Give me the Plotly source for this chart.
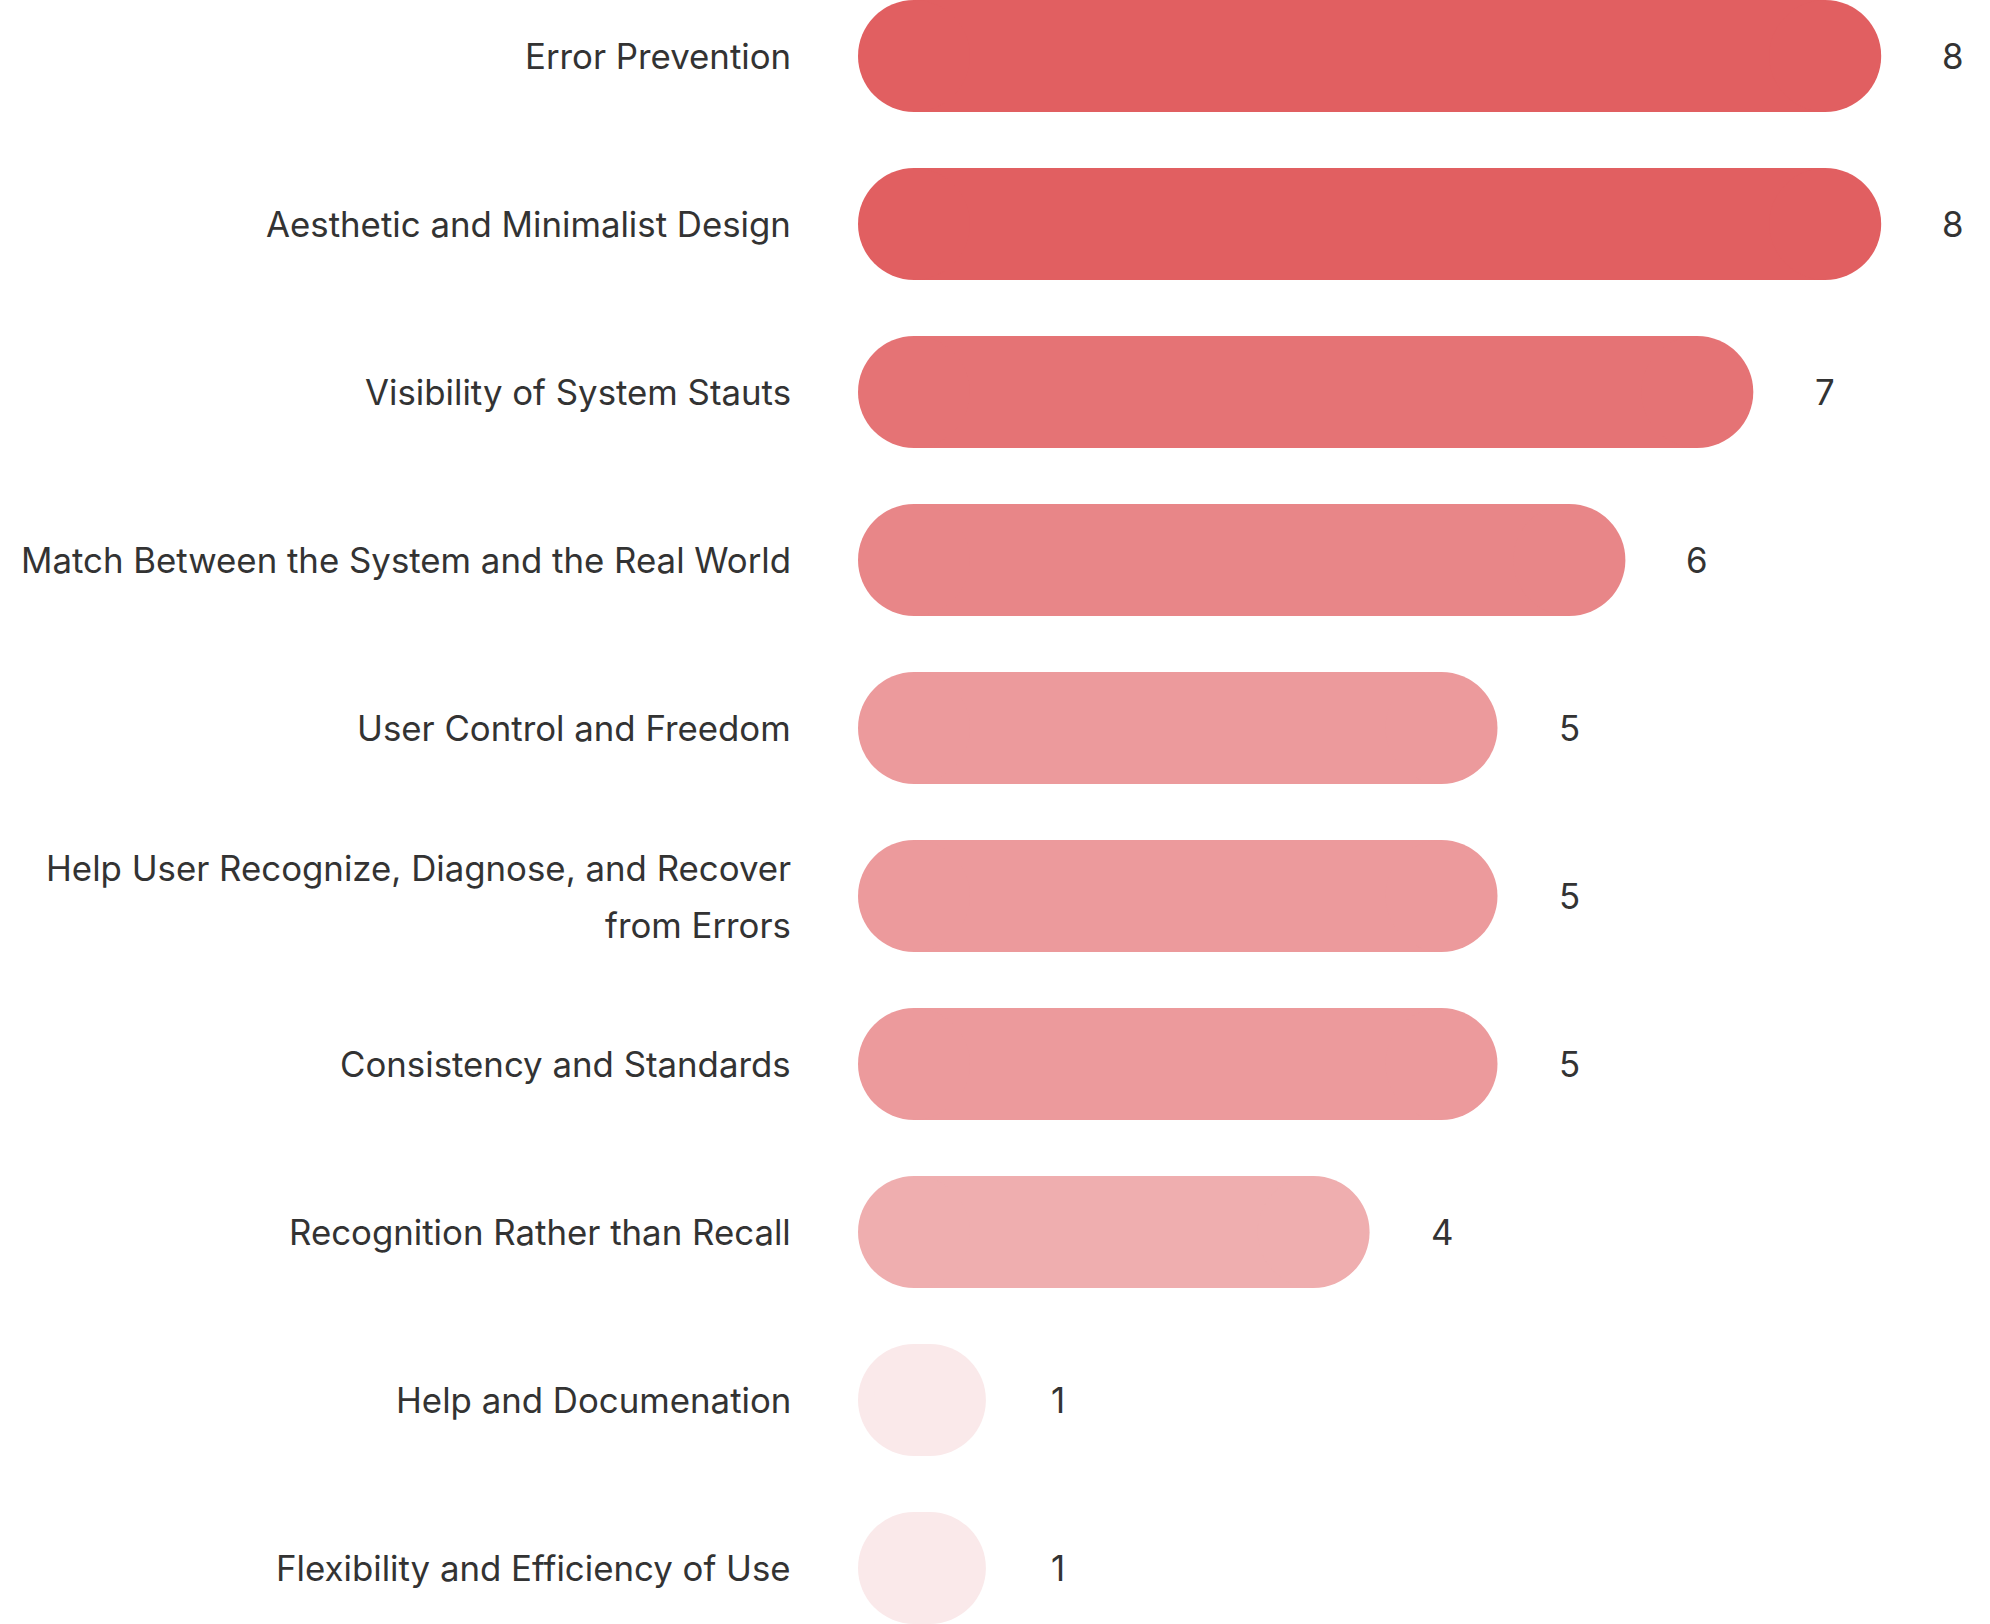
import plotly.graph_objects as go

categories = [
    "Error Prevention",
    "Aesthetic and Minimalist Design",
    "Visibility of System Stauts",
    "Match Between the System and the Real World",
    "User Control and Freedom",
    "Help User Recognize, Diagnose, and Recover<br>from Errors",
    "Consistency and Standards",
    "Recognition Rather than Recall",
    "Help and Documenation",
    "Flexibility and Efficiency of Use",
]
values = [8, 8, 7, 6, 5, 5, 5, 4, 1, 1]

FONT = "Inter"
TEXT_COLOR = "#333333"
FS = 34.8
LINE_GAP = 57

PLOT_W = 1132          # plot area width in px
PX_PER_UNIT = 127.9    # px per value unit
XMAX = PLOT_W / PX_PER_UNIT
BAR_PX = 112           # bar thickness in px
R = (BAR_PX / 2) / PX_PER_UNIT  # cap radius in value units

COLORSCALE = [[0, "#FAE9EA"], [1, "#E15F61"]]
CMIN, CMAX = min(values), max(values)

fig = go.Figure()
# straight body of each pill (between the two cap centres)
fig.add_trace(go.Bar(
    y=categories, x=[v - 2 * R for v in values], base=R, orientation="h",
    marker=dict(color=values, colorscale=COLORSCALE, cmin=CMIN, cmax=CMAX,
                line=dict(width=0)),
    hoverinfo="skip",
))
# round caps at both ends
fig.add_trace(go.Scatter(
    y=categories + categories,
    x=[R] * len(values) + [v - R for v in values],
    mode="markers",
    marker=dict(size=BAR_PX, symbol="circle", color=values + values,
                colorscale=COLORSCALE, cmin=CMIN, cmax=CMAX,
                line=dict(width=0), opacity=1),
    hoverinfo="skip", cliponaxis=False,
))

# value labels
for c, v in zip(categories, values):
    fig.add_annotation(
        x=v, y=c, xref="x", yref="y", text=str(v), showarrow=False,
        xanchor="center", yanchor="middle", xshift=72,
        font=dict(family=FONT, size=FS, color=TEXT_COLOR),
    )

# category labels (right-aligned, custom line spacing)
for c in categories:
    lines = c.split("<br>")
    n = len(lines)
    for i, line in enumerate(lines):
        fig.add_annotation(
            x=0, xref="paper", y=c, yref="y", text=line, showarrow=False,
            xanchor="right", yanchor="middle", align="right",
            xshift=-65, yshift=((n - 1) / 2 - i) * LINE_GAP,
            font=dict(family=FONT, size=FS, color=TEXT_COLOR),
        )

fig.update_layout(
    width=1990, height=1624,
    margin=dict(l=1990 - PLOT_W, r=0, t=0, b=0, autoexpand=False),
    paper_bgcolor="white", plot_bgcolor="white",
    showlegend=False,
    bargap=1/3,
    font=dict(family=FONT, size=FS, color=TEXT_COLOR),
    xaxis=dict(range=[0, XMAX], visible=False, fixedrange=True),
    yaxis=dict(
        categoryorder="array", categoryarray=categories,
        range=[len(categories) - 1 + 1/3, -1/3],
        showgrid=False, zeroline=False, showline=False,
        ticks="", showticklabels=False, automargin=False,
    ),
)

fig.write_html("out.html")
